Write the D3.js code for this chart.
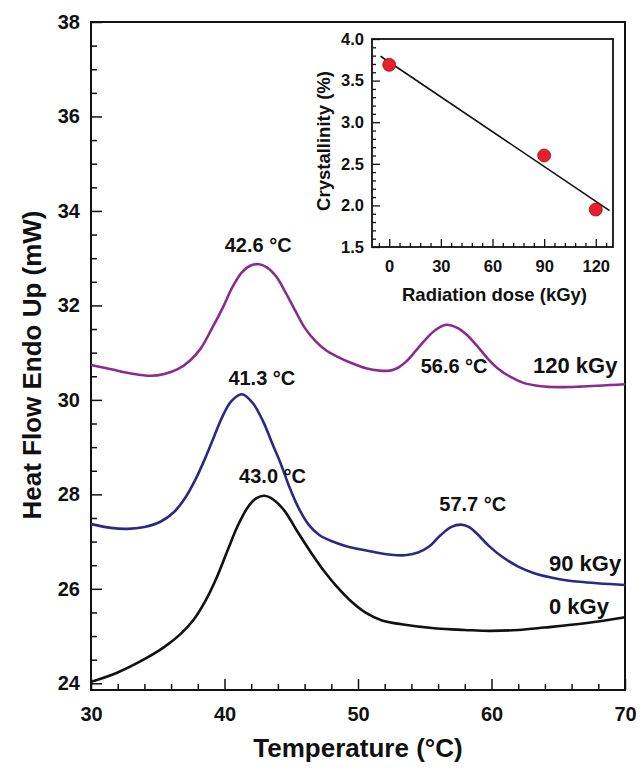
<!DOCTYPE html>
<html>
<head>
<meta charset="utf-8">
<script src="https://cdn.jsdelivr.net/npm/d3@7"></script>
<style>
  html, body { margin: 0; padding: 0; background: #fff; }
  svg { display: block; }
  text { font-family: "Liberation Sans", Arial, Helvetica, sans-serif; font-weight: bold; fill: #111; }
</style>
</head>
<body>
<svg id="chart" width="640" height="774"></svg>
<script>
// ---------- data ----------
const temps0   = [30, 32, 34, 35.5, 36.7, 37.7, 38.6, 39.4, 40.2, 41.0, 41.8, 42.4, 43.0, 43.7, 44.5, 45.4, 46.5, 47.5, 48.4, 49.5, 50.6, 51.8, 53.25, 55.9, 58, 59.9, 62, 63.95, 67, 70];
const heat0    = [24.03, 24.23, 24.51, 24.77, 25.04, 25.35, 25.76, 26.23, 26.79, 27.34, 27.75, 27.92, 27.97, 27.88, 27.65, 27.24, 26.76, 26.36, 26.05, 25.73, 25.49, 25.33, 25.25, 25.16, 25.13, 25.11, 25.13, 25.18, 25.27, 25.40];

const temps90  = [30, 31.5, 32.7, 34, 35.2, 36.2, 37.0, 37.8, 38.5, 39.2, 39.8, 40.5, 41.3, 42.1, 42.9, 43.6, 44.2, 44.8, 45.5, 46.3, 47.1, 48.2, 49.25, 51, 52.5, 53.5, 54.5, 55.3, 56.2, 57.0, 57.7, 58.3, 58.9, 59.8, 60.8, 62, 63.2, 65, 66.6, 70];
const heat90   = [27.37, 27.29, 27.27, 27.31, 27.42, 27.62, 27.90, 28.30, 28.73, 29.21, 29.62, 29.97, 30.12, 29.94, 29.54, 29.06, 28.66, 28.20, 27.74, 27.36, 27.14, 26.99, 26.89, 26.79, 26.72, 26.71, 26.77, 26.89, 27.14, 27.31, 27.36, 27.31, 27.17, 26.91, 26.68, 26.47, 26.33, 26.21, 26.15, 26.08];

const temps120 = [30, 31.5, 33, 34.5, 35.5, 36.5, 37.4, 38.2, 39.0, 39.9, 40.6, 41.3, 42.0, 42.6, 43.2, 43.9, 44.6, 45.3, 46.0, 46.8, 47.6, 48.4, 49.5, 50.6, 51.6, 52.4, 53.0, 53.6, 54.3, 55.0, 55.8, 56.6, 57.4, 58.1, 58.9, 59.7, 60.5, 61.4, 62.4, 63.7, 65, 66.6, 70];
const heat120  = [30.74, 30.65, 30.56, 30.51, 30.55, 30.65, 30.83, 31.08, 31.48, 31.97, 32.39, 32.70, 32.85, 32.87, 32.80, 32.60, 32.26, 31.89, 31.53, 31.25, 31.05, 30.92, 30.78, 30.67, 30.62, 30.62, 30.68, 30.81, 31.03, 31.26, 31.48, 31.59, 31.53, 31.39, 31.15, 30.88, 30.66, 30.49, 30.36, 30.29, 30.27, 30.28, 30.33];

const seriesNames  = ["0 kGy", "90 kGy", "120 kGy"];
const seriesColors = ["#111111", "#2a2a86", "#8a2c8e"];

const peakLabels = ["43.0 °C", "41.3 °C", "57.7 °C", "42.6 °C", "56.6 °C"];
const peakTemps  = [43.0, 41.3, 57.7, 42.6, 56.6];
const peakLabelY = [28.24, 30.31, 27.64, 33.13, 30.57];

const xTicks = [30, 40, 50, 60, 70];
const yTicks = [24, 26, 28, 30, 32, 34, 36, 38];

// inset
const doses = [0, 90, 120];
const crystallinity = [3.69, 2.60, 1.95];
const insetXTicks = [0, 30, 60, 90, 120];
const insetYTicks = [1.5, 2.0, 2.5, 3.0, 3.5, 4.0];

// ---------- layout ----------
const svg = d3.select("#chart");
const L = 91, R = 625, T = 22, B = 690;

const x = d3.scaleLinear().domain([30, 70]).range([L, R]);
const y = d3.scaleLinear().domain([24, 38]).range([683.3, T]);

const g = svg.append("g");

// minor ticks
const xMinor = d3.range(30, 70.001, 2).filter(v => v % 10 !== 0);
const yMinor = d3.range(24, 38.001, 0.5).filter(v => Math.abs(v % 2) > 1e-6);

g.append("g").attr("transform", `translate(0,${B})`)
  .call(d3.axisBottom(x).tickValues(xMinor).tickSize(-6).tickFormat(""))
  .call(a => a.select(".domain").remove())
  .selectAll("line").attr("stroke", "#111").attr("stroke-width", 1.5);
g.append("g").attr("transform", `translate(${L},0)`)
  .call(d3.axisLeft(y).tickValues(yMinor).tickSize(-6).tickFormat(""))
  .call(a => a.select(".domain").remove())
  .selectAll("line").attr("stroke", "#111").attr("stroke-width", 1.5);

// major ticks
const xAxis = g.append("g").attr("transform", `translate(0,${B})`)
  .call(d3.axisBottom(x).tickValues(xTicks).tickSize(-11).tickPadding(17).tickFormat(d3.format("d")));
xAxis.select(".domain").remove();
xAxis.selectAll("line").attr("stroke", "#111").attr("stroke-width", 1.5);
xAxis.selectAll("text").style("font-size", "20px").attr("fill", "#111");

const yAxis = g.append("g").attr("transform", `translate(${L},0)`)
  .call(d3.axisLeft(y).tickValues(yTicks).tickSize(-11).tickPadding(11).tickFormat(d3.format("d")));
yAxis.select(".domain").remove();
yAxis.selectAll("line").attr("stroke", "#111").attr("stroke-width", 1.5);
yAxis.selectAll("text").style("font-size", "20px").attr("fill", "#111");

// frame
g.append("rect").attr("x", L).attr("y", T).attr("width", R - L).attr("height", B - T)
  .attr("fill", "none").attr("stroke", "#111").attr("stroke-width", 2);

// axis titles
g.append("text").attr("x", (L + R) / 2).attr("y", 757).attr("text-anchor", "middle")
  .style("font-size", "26px").text("Temperature (°C)");
g.append("text").attr("transform", `translate(41,365) rotate(-90)`).attr("text-anchor", "middle")
  .style("font-size", "26px").text("Heat Flow Endo Up (mW)");

// curves
const line = d3.line().x(d => x(d[0])).y(d => y(d[1])).curve(d3.curveCatmullRom.alpha(0.5));
const allSeries = [
  d3.zip(temps0, heat0),
  d3.zip(temps90, heat90),
  d3.zip(temps120, heat120)
];
allSeries.forEach((s, i) => {
  g.append("path").datum(s).attr("d", line).attr("fill", "none")
    .attr("stroke", seriesColors[i]).attr("stroke-width", 2.6).attr("stroke-linejoin", "round");
});

// series labels
const seriesLabelX = [549, 549, 533];
const seriesLabelY = [25.47, 26.38, 30.57];
seriesNames.forEach((n, i) => {
  g.append("text").attr("x", seriesLabelX[i]).attr("y", y(seriesLabelY[i]))
    .style("font-size", "22px").text(n);
});

// peak labels (x nudge in px for placement)
const peakNudge = [8, 20, 12, -1, 8];
peakLabels.forEach((t, i) => {
  g.append("text").attr("x", x(peakTemps[i]) + peakNudge[i])
    .attr("y", y(peakLabelY[i]))
    .attr("text-anchor", "middle").style("font-size", "20px").text(t);
});

// ---------- inset ----------
const iL = 372, iR = 613, iT = 39, iB = 247;
const ix = d3.scaleLinear().domain([-10, 130]).range([iL, iR]);
const iy = d3.scaleLinear().domain([1.5, 4.0]).range([iB, iT]);
const ig = svg.append("g");

const ixMinor = d3.range(-6, 130, 6).filter(v => v % 30 !== 0);
const iyMinor = d3.range(1.5, 4.0001, 0.1).filter(v => Math.abs((v * 10) % 5) > 1e-6 && Math.abs((v * 10) % 5 - 5) > 1e-6);

ig.append("g").attr("transform", `translate(0,${iB})`)
  .call(d3.axisBottom(ix).tickValues(ixMinor).tickSize(-4).tickFormat(""))
  .call(a => a.select(".domain").remove())
  .selectAll("line").attr("stroke", "#111").attr("stroke-width", 1.3);
ig.append("g").attr("transform", `translate(${iL},0)`)
  .call(d3.axisLeft(iy).tickValues(iyMinor).tickSize(-4).tickFormat(""))
  .call(a => a.select(".domain").remove())
  .selectAll("line").attr("stroke", "#111").attr("stroke-width", 1.3);

const ixAxis = ig.append("g").attr("transform", `translate(0,${iB})`)
  .call(d3.axisBottom(ix).tickValues(insetXTicks).tickSize(-8).tickPadding(13).tickFormat(d3.format("d")));
ixAxis.select(".domain").remove();
ixAxis.selectAll("line").attr("stroke", "#111").attr("stroke-width", 1.3);
ixAxis.selectAll("text").style("font-size", "16.5px").attr("fill", "#111");

const iyAxis = ig.append("g").attr("transform", `translate(${iL},0)`)
  .call(d3.axisLeft(iy).tickValues(insetYTicks).tickSize(-8).tickPadding(8).tickFormat(d3.format(".1f")));
iyAxis.select(".domain").remove();
iyAxis.selectAll("line").attr("stroke", "#111").attr("stroke-width", 1.3);
iyAxis.selectAll("text").style("font-size", "16.5px").attr("fill", "#111");

ig.append("rect").attr("x", iL).attr("y", iT).attr("width", iR - iL).attr("height", iB - iT)
  .attr("fill", "none").attr("stroke", "#111").attr("stroke-width", 1.8);

ig.append("text").attr("x", (iL + iR) / 2 + 2).attr("y", 301).attr("text-anchor", "middle")
  .style("font-size", "18.5px").text("Radiation dose (kGy)");
ig.append("text").attr("transform", `translate(330,141) rotate(-90)`).attr("text-anchor", "middle")
  .style("font-size", "18.5px").text("Crystallinity (%)");

// linear fit
const mx = d3.mean(doses), my = d3.mean(crystallinity);
const slope = d3.sum(doses.map((d, i) => (d - mx) * (crystallinity[i] - my))) / d3.sum(doses.map(d => (d - mx) ** 2));
const intercept = my - slope * mx;
const fitRange = [-5, 128];
ig.append("line")
  .attr("x1", ix(fitRange[0])).attr("y1", iy(intercept + slope * fitRange[0]))
  .attr("x2", ix(fitRange[1])).attr("y2", iy(intercept + slope * fitRange[1]))
  .attr("stroke", "#111").attr("stroke-width", 1.6);

ig.selectAll("circle").data(d3.zip(doses, crystallinity)).join("circle")
  .attr("cx", d => ix(d[0])).attr("cy", d => iy(d[1])).attr("r", 6.5)
  .attr("fill", "#e8202a").attr("stroke", "#a01010").attr("stroke-width", 0.8);
</script>
</body>
</html>
